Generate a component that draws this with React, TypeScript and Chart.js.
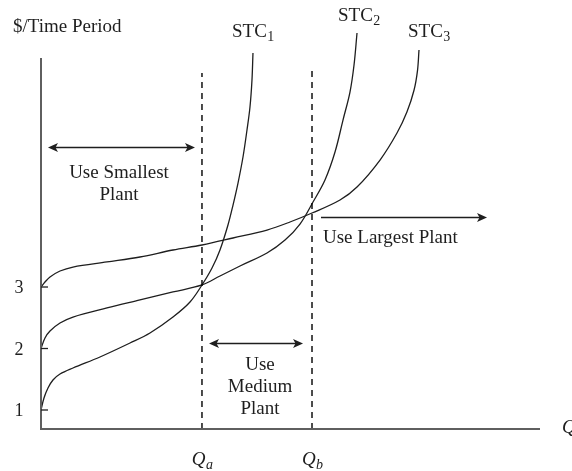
import React, { useEffect, useRef } from "react";
import { Chart, registerables } from "chart.js";

Chart.register(...registerables);

// Quantity (x) and cost (y) readings of the three short-run total cost curves
const stc1Q = [0, 0.6, 1.4, 2.4, 3.81, 6.41, 11.82, 17.84, 21.84, 26.45, 29.86, 32.26, 34.27, 35.87, 37.47, 38.48, 39.48, 40.48, 41.28, 41.88, 42.28, 42.48];
const stc1Cost = [1.0, 1.195, 1.358, 1.488, 1.585, 1.683, 1.862, 2.089, 2.252, 2.512, 2.756, 3.033, 3.309, 3.602, 4.008, 4.333, 4.691, 5.114, 5.553, 5.927, 6.366, 6.805];

const stc2Q = [0, 0.8, 1.8, 3.81, 6.41, 13.23, 19.84, 26.45, 32.26, 35.87, 39.88, 45.29, 48.9, 51.9, 54.51, 56.91, 58.92, 60.52, 61.92, 62.73, 63.33];
const stc2Cost = [2.0, 2.171, 2.285, 2.415, 2.512, 2.659, 2.789, 2.919, 3.033, 3.179, 3.341, 3.553, 3.764, 4.024, 4.382, 4.74, 5.195, 5.715, 6.171, 6.61, 7.13];

const stc3Q = [0, 0.8, 1.8, 3.81, 6.41, 13.23, 19.84, 26.45, 32.26, 38.48, 45.29, 49.9, 54.31, 59.92, 63.33, 67.94, 71.34, 73.35, 74.75, 75.45, 75.75];
const stc3Cost = [3.0, 3.081, 3.163, 3.26, 3.325, 3.407, 3.488, 3.602, 3.683, 3.797, 3.927, 4.057, 4.203, 4.415, 4.626, 5.065, 5.504, 5.85, 6.2, 6.52, 6.854];

const yTickValues = [1, 2, 3];
const yTickLabels = ["1", "2", "3"];

const qaValue = 32.26;
const qbValue = 54.31;
const qLabels = [
  { base: "Q", sub: "a" },
  { base: "Q", sub: "b" },
];

const Y_MIN = 0.691;
const Y_MAX = 6.724;
const X_MIN = 0;
const X_MAX = 100;

const SERIF = "'Liberation Serif', 'Times New Roman', serif";
const INK = "#1e1e1e";
const AXIS = "#5f5f5f";

function drawHead(ctx: CanvasRenderingContext2D, x: number, y: number, dir: number) {
  const L = 10, W = 4.6, N = 2.5;
  ctx.beginPath();
  ctx.moveTo(x, y);
  ctx.lineTo(x - dir * L, y - W);
  ctx.lineTo(x - dir * (L - N), y);
  ctx.lineTo(x - dir * L, y + W);
  ctx.closePath();
  ctx.fill();
}

function drawSub(
  ctx: CanvasRenderingContext2D,
  base: string,
  sub: string,
  x: number,
  baseline: number,
  align: "left" | "center",
  italic: boolean,
  size: number,
  subSize: number,
  subDrop: number
) {
  const st = italic ? "italic " : "";
  ctx.font = `${st}${size}px ${SERIF}`;
  const wb = ctx.measureText(base).width;
  ctx.font = `${st}${subSize}px ${SERIF}`;
  const ws = ctx.measureText(sub).width;
  const total = wb + ws + 0.5;
  const x0 = align === "center" ? x - total / 2 : x;
  ctx.textAlign = "left";
  ctx.textBaseline = "alphabetic";
  ctx.font = `${st}${size}px ${SERIF}`;
  ctx.fillText(base, x0, baseline);
  ctx.font = `${st}${subSize}px ${SERIF}`;
  ctx.fillText(sub, x0 + wb + 0.5, baseline + subDrop);
}

const decorPlugin = {
  id: "decor",
  afterDatasetsDraw(chart: any) {
    const ctx: CanvasRenderingContext2D = chart.ctx;
    const xs = chart.scales.x;
    const ys = chart.scales.y;
    const { left, right, top, bottom } = chart.chartArea;
    ctx.save();

    // axes
    ctx.strokeStyle = AXIS;
    ctx.lineWidth = 2;
    ctx.beginPath();
    ctx.moveTo(left, top);
    ctx.lineTo(left, bottom);
    ctx.lineTo(right, bottom);
    ctx.stroke();

    // y ticks (inward) + labels
    ctx.lineWidth = 1.3;
    ctx.strokeStyle = INK;
    ctx.fillStyle = INK;
    ctx.font = `18px ${SERIF}`;
    ctx.textAlign = "right";
    ctx.textBaseline = "alphabetic";
    yTickValues.forEach((v, i) => {
      const py = ys.getPixelForValue(v);
      ctx.beginPath();
      ctx.moveTo(left, py);
      ctx.lineTo(left + 7, py);
      ctx.stroke();
      ctx.fillText(yTickLabels[i], 23.5, py + 6);
    });

    // x labels Qa, Qb
    [qaValue, qbValue].forEach((v, i) => {
      const px = xs.getPixelForValue(v);
      drawSub(ctx, qLabels[i].base, qLabels[i].sub, px + 0.5, 465, "center", true, 19, 14, 4);
    });

    // axis titles
    ctx.font = `19px ${SERIF}`;
    ctx.textAlign = "left";
    ctx.fillText("$/Time Period", 13, 32);
    ctx.font = `italic 19px ${SERIF}`;
    ctx.fillText("Q", 562, 433);

    // curve labels
    drawSub(ctx, "STC", "1", 232, 37, "left", false, 19, 14, 4);
    drawSub(ctx, "STC", "2", 338, 21, "left", false, 19, 14, 4);
    drawSub(ctx, "STC", "3", 408, 37, "left", false, 19, 14, 4);

    // arrows
    const arrow = (x1: number, x2: number, yv: number, both: boolean) => {
      const p1 = xs.getPixelForValue(x1);
      const p2 = xs.getPixelForValue(x2);
      const py = Math.round(ys.getPixelForValue(yv)) + 0.5;
      ctx.strokeStyle = INK;
      ctx.lineWidth = 1.4;
      ctx.beginPath();
      ctx.moveTo(p1 + (both ? 4 : 0), py);
      ctx.lineTo(p2 - 4, py);
      ctx.stroke();
      drawHead(ctx, p2, py, 1);
      if (both) drawHead(ctx, p1, py, -1);
    };
    ctx.fillStyle = INK;
    arrow(1.4, 30.86, 5.276, true); // smallest
    arrow(33.67, 52.51, 2.089, true); // medium
    arrow(56.11, 89.38, 4.138, false); // largest

    // region texts
    ctx.font = `19px ${SERIF}`;
    ctx.textAlign = "center";
    ctx.textBaseline = "alphabetic";
    ctx.fillText("Use Smallest", 119, 178);
    ctx.fillText("Plant", 119, 200);
    ctx.fillText("Use", 260, 370);
    ctx.fillText("Medium", 260, 392);
    ctx.fillText("Plant", 260, 414);
    ctx.textAlign = "left";
    ctx.fillText("Use Largest Plant", 323, 243);

    ctx.restore();
  },
};

export default function App() {
  const ref = useRef<HTMLCanvasElement>(null);

  useEffect(() => {
    const canvas = ref.current;
    if (!canvas) return;
    const pts = (xs: number[], ys: number[]) => xs.map((x, i) => ({ x, y: ys[i] }));
    const curve = (label: string, xs: number[], ys: number[]) => ({
      label,
      data: pts(xs, ys),
      borderColor: INK,
      borderWidth: 1.3,
      pointRadius: 0,
      fill: false,
      tension: 0.35,
      clip: false as const,
    });
    const dashed = (label: string, xv: number, topV: number) => ({
      label,
      data: [
        { x: xv, y: Y_MIN },
        { x: xv, y: topV },
      ],
      borderColor: "#000",
      borderWidth: 1.4,
      borderDash: [6, 5],
      pointRadius: 0,
      fill: false,
      clip: false as const,
    });

    const chart = new Chart(canvas, {
      type: "line",
      data: {
        datasets: [
          dashed("Qa", qaValue, 6.48),
          dashed("Qb", qbValue, 6.545),
          curve("STC1", stc1Q, stc1Cost),
          curve("STC2", stc2Q, stc2Cost),
          curve("STC3", stc3Q, stc3Cost),
        ] as any,
      },
      options: {
        responsive: false,
        animation: false,
        events: [],
        layout: { padding: { left: 41, right: 32, top: 58, bottom: 42 } },
        scales: {
          x: { type: "linear", min: X_MIN, max: X_MAX, display: false },
          y: { type: "linear", min: Y_MIN, max: Y_MAX, display: false },
        },
        plugins: {
          legend: { display: false },
          tooltip: { enabled: false },
        },
      },
      plugins: [decorPlugin],
    });
    return () => chart.destroy();
  }, []);

  return (
    <div style={{ position: "absolute", left: 0, top: 0, width: 572, height: 471, background: "#fff" }}>
      <canvas ref={ref} width={572} height={471} style={{ display: "block" }} />
    </div>
  );
}
